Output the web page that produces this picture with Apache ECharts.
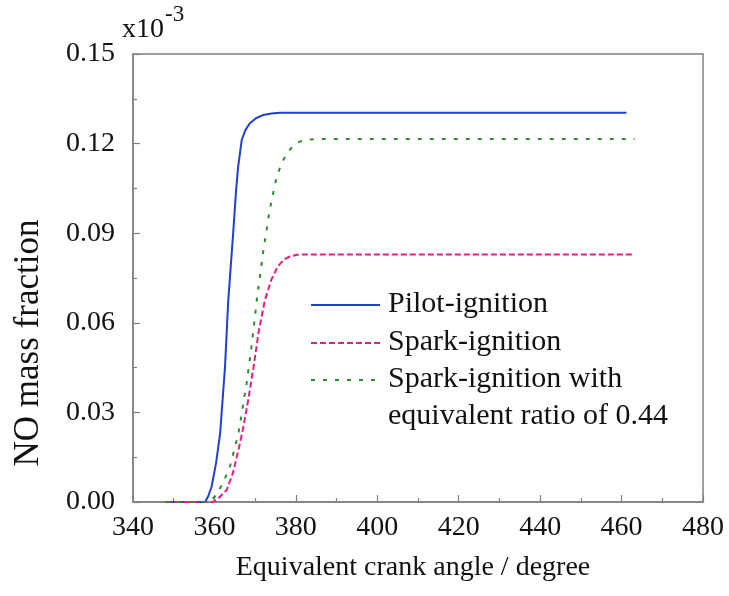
<!DOCTYPE html>
<html>
<head>
<meta charset="utf-8">
<script src="https://cdn.jsdelivr.net/npm/echarts@6/dist/echarts.min.js"></script>
<style>
html,body{margin:0;padding:0;background:#fff;}
#chart{width:729px;height:596px;}
</style>
</head>
<body>
<div id="chart"></div>
<script>
// ---- data (NO mass fraction, units of 1e-3) ----
const seriesNames = ["Pilot-ignition", "Spark-ignition", "Spark-ignition with\nequivalent ratio of 0.44"];
const pilotData = [[348,0],[357,0],[357.7,0],[358.5,0.002],[359.3,0.0051],[360.4,0.013],[361.4,0.023],[362.6,0.0453],[363.4,0.0676],[364.6,0.09],[365.3,0.104],[365.8,0.112],[366.7,0.1212],[367.6,0.1245],[368.7,0.1268],[370.2,0.1285],[372,0.1296],[374,0.1301],[376.1,0.1303],[461.2,0.1303]];
const sparkData = [[348,0],[359.5,0],[360.6,0.0007],[363,0.004],[364.5,0.0095],[365.9,0.0174],[367.1,0.025],[368.3,0.0342],[369.6,0.045],[370.8,0.0565],[372.4,0.0676],[374,0.0745],[375.5,0.0788],[377,0.0811],[378.5,0.0822],[380.3,0.0828],[383,0.0829],[462.6,0.0829]];
const sparkLeanData = [[348,0],[358,0],[359,0.0005],[360.1,0.0018],[362,0.006],[363.8,0.0118],[365.9,0.023],[367.9,0.0397],[369.2,0.053],[370.4,0.0676],[372,0.084],[373.6,0.098],[375.3,0.109],[376.7,0.114],[378.1,0.1173],[379.5,0.1195],[381,0.1207],[383,0.1213],[385,0.1215],[463.2,0.1215]];
const xTicks = [340,360,380,400,420,440,460,480];
const yTicks = [0.00,0.03,0.06,0.09,0.12,0.15];

const colors = ["#1f3fd6", "#e6207e", "#2e8b2e"];
const FONT = "'Liberation Serif', 'Times New Roman', serif";

const chart = echarts.init(document.getElementById('chart'));
const axisCol = '#808080';

const legendRows = [
  {y: 305, text: seriesNames[0], dash: null, color: colors[0]},
  {y: 343, text: seriesNames[1], dash: [6,3], color: colors[1]},
  {y: 380, text: seriesNames[2], dash: [4,8], color: colors[2]}
];
const graphics = [];
legendRows.forEach(r => {
  graphics.push({type:'line', shape:{x1:311,y1:r.y,x2:380,y2:r.y},
    style:{stroke:r.color, lineWidth:2, lineDash:r.dash || null}});
  graphics.push({type:'text', x:388, y:r.y - 19,
    style:{text:r.text, font:"30px " + FONT, fill:'#111', lineHeight:37, textVerticalAlign:'top'}});
});
graphics.push({type:'text', x:29, y:343, rotation:Math.PI/2,
  style:{text:'NO mass fraction', font:"35px " + FONT, fill:'#111', textAlign:'center', textVerticalAlign:'middle'}});
graphics.push({type:'text', x:122, y:30,
  style:{text:'x10', font:"28px " + FONT, fill:'#111', textAlign:'left', textVerticalAlign:'middle'}});
graphics.push({type:'text', x:165, y:15,
  style:{text:'-3', font:"23px " + FONT, fill:'#111', textAlign:'left', textVerticalAlign:'middle'}});

const mk = (name, data, color, type, dash) => ({
  name, type:'line', data, showSymbol:false, symbol:'none', smooth:false,
  lineStyle:{color, width:2, type: dash || type},
  z: 3
});

chart.setOption({
  animation:false,
  backgroundColor:'#fff',
  grid:{left:133, top:54, right:26, bottom:94, show:true, borderColor:axisCol, borderWidth:1.5, backgroundColor:'transparent'},
  xAxis:{
    type:'value', min:xTicks[0], max:xTicks[xTicks.length-1], interval:20,
    name:'Equivalent crank angle / degree', nameLocation:'middle', nameGap:52,
    nameTextStyle:{fontFamily:FONT, fontSize:28, color:'#111', padding:[0,10,0,0]},
    axisLine:{show:true, lineStyle:{color:axisCol, width:1.5}},
    axisTick:{show:true, inside:true, length:7, lineStyle:{color:axisCol, width:1.2}},
    minorTick:{show:true, splitNumber:2, length:4, lineStyle:{color:axisCol, width:1.2}},
    axisLabel:{fontFamily:FONT, fontSize:28, color:'#111', margin:12},
    splitLine:{show:false}
  },
  yAxis:{
    type:'value', min:yTicks[0], max:yTicks[yTicks.length-1], interval:0.03,
    axisLine:{show:true, lineStyle:{color:axisCol, width:1.5}},
    axisTick:{show:true, inside:true, length:7, lineStyle:{color:axisCol, width:1.2}},
    minorTick:{show:true, splitNumber:2, length:4, lineStyle:{color:axisCol, width:1.2}},
    axisLabel:{fontFamily:FONT, fontSize:28, color:'#111', margin:18, formatter:v => v.toFixed(2)},
    splitLine:{show:false}
  },
  series:[
    mk(seriesNames[0], pilotData, colors[0], 'solid'),
    mk(seriesNames[1], sparkData, colors[1], 'dashed', [6,3]),
    mk(seriesNames[2], sparkLeanData, colors[2], 'dotted', [4,8])
  ],
  graphic: graphics
});
</script>
</body>
</html>
